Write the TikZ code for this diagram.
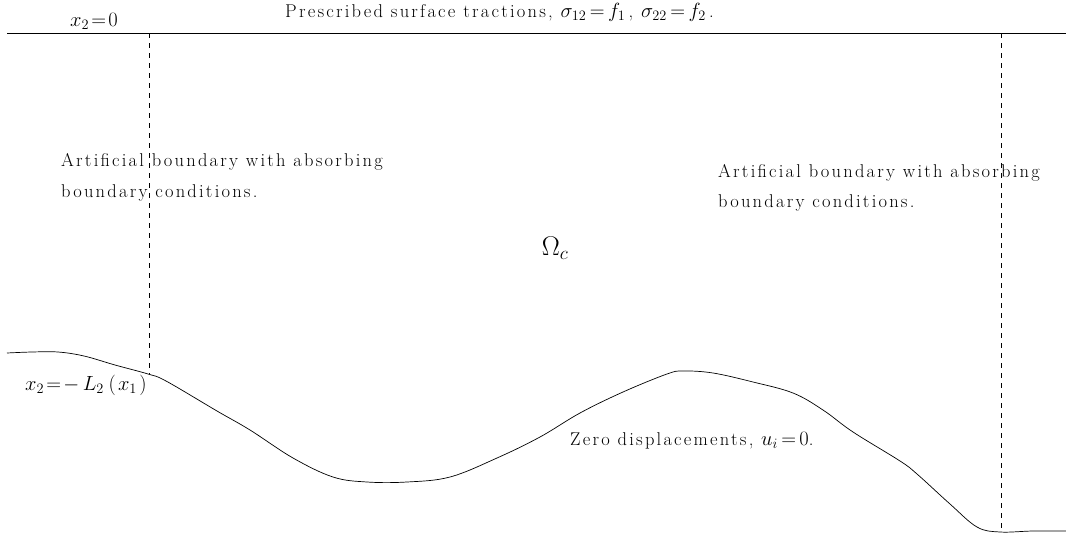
\RequirePackage{fix-cm}
\documentclass[tikz,border=0pt]{standalone}
\usepackage{fontspec}
\newfontfamily\spaced{Latin Modern Roman}[LetterSpace=12]
\tikzset{
  lbl/.style={inner sep=0pt, anchor=base west, font=\fontsize{18.5}{31}\selectfont\spaced},
  bound/.style={line width=0.7pt},
  artif/.style={line width=0.7pt, dash pattern=on 5pt off 5pt},
}
\newcommand{\eqs}{\mkern3mu{=}\mkern3mu}
\newcommand{\mth}[1]{{\fontsize{20.5}{31}\selectfont$#1$}}
\begin{document}
\begin{tikzpicture}[x=1pt,y=-1pt]
\useasboundingbox (0,0) rectangle (1066,538);
% top surface
\coordinate (tl) at (7,33);
\coordinate (tr) at (1066,33);
\draw[bound] (tl) -- (tr);
% bottom curve
\draw[bound] plot[smooth, tension=0.6] coordinates {
 (7,353) (32,352) (58,352) (84,356) (115,365) (148,374) (166,381) (217,411) (250,430) (293,458)
 (333,477) (367,482) (407,482) (450,477) (497,458) (540,437) (580,413) (623,392)
 (667,374) (683,371) (713,373) (753,382) (793,393) (823,410) (853,432) (900,461)
 (917,474) (950,504) (977,527) (1000,532) (1033,531) (1066,531)};
% artificial boundaries
\coordinate (la) at (149,33);
\coordinate (lb) at (149,374);
\coordinate (ra) at (1001,33);
\coordinate (rb) at (1001,532);
\draw[artif] (la) -- (lb);
\draw[artif] (ra) -- (rb);
% labels
\node[lbl] (x0) at (70,26) {\mth{x_{2}\mkern2mu{=}\mkern2mu 0}};
\node[lbl] (top) at (285,17) {Prescribed surface tractions, \mth{\sigma_{12}\eqs f_{1}}\,, \mth{\sigma_{22}\eqs f_{2}}\,.};
\node[lbl] (al1) at (61,166) {Artificial boundary with absorbing};
\node[lbl] (al2) at (61,197) {boundary conditions.};
\node[lbl] (ar1) at (718,177) {Artificial boundary with absorbing};
\node[lbl] (ar2) at (718,207) {boundary conditions.};
\node[inner sep=0pt, anchor=base, font=\fontsize{27}{30}\selectfont] (om) at (555,255) {$\Omega_{c}$};
\node[lbl] (L2) at (25,390) {\mth{x_{2}\mkern2mu{=}\mkern2mu{-}\mkern3mu L_{2}\mkern4mu(\mkern2mu x_{1}\mkern2mu)}};
\node[lbl] (zd) at (570,445) {Zero displacements, \mth{u_{i}\eqs 0}.};
\end{tikzpicture}
\end{document}
